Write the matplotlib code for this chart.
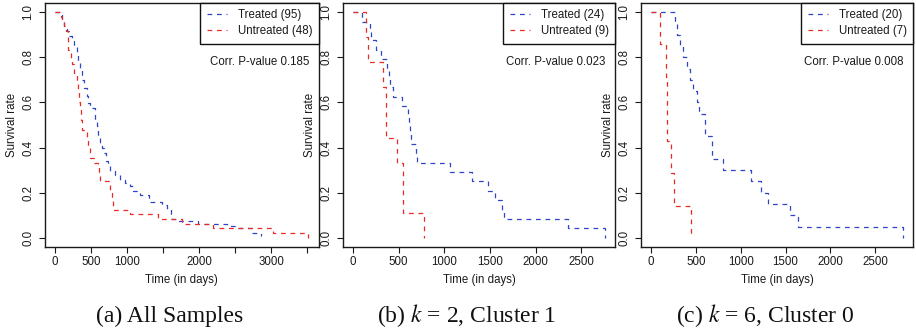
import matplotlib
matplotlib.use("Agg")
import matplotlib.pyplot as plt

plt.rcParams['font.family'] = ['Liberation Sans', 'DejaVu Sans']
plt.rcParams['mathtext.fontset'] = 'stix'

# ---------------- data ----------------
# Panel (a) All Samples
a_treated_t = [0, 101, 130, 162, 194, 231, 268, 301, 324, 347, 380, 407, 440, 463, 486,
               556, 579, 602, 625, 657, 685, 704, 732, 764, 833, 903, 972, 1042, 1088, 1181,
               1300, 1490, 1560, 1611, 1690, 1990, 2390, 2510, 2740, 2860]
a_treated_s = [1.0, 0.968, 0.936, 0.914, 0.892, 0.870, 0.848, 0.820, 0.782, 0.745, 0.700,
               0.664, 0.627, 0.597, 0.575, 0.524, 0.494, 0.450, 0.420, 0.398, 0.376, 0.339,
               0.317, 0.295, 0.280, 0.258, 0.243, 0.228, 0.207, 0.192, 0.158, 0.147, 0.126,
               0.084, 0.074, 0.063, 0.053, 0.042, 0.021, 0.0105]
a_untreated_t = [0, 79, 102, 125, 148, 176, 185, 222, 241, 268, 301, 324, 333, 347, 361,
                 380, 440, 463, 486, 546, 593, 611, 625, 764, 787, 810, 1045, 1435, 1760,
                 2200, 3030, 3520]
a_untreated_s = [1.0, 0.979, 0.958, 0.938, 0.917, 0.875, 0.833, 0.792, 0.771, 0.729, 0.688,
                 0.646, 0.604, 0.583, 0.521, 0.479, 0.438, 0.396, 0.354, 0.333, 0.313, 0.292,
                 0.25, 0.208, 0.167, 0.125, 0.104, 0.083, 0.0625, 0.042, 0.021, 0.0]

# Panel (b) k = 2, Cluster 1
b_treated_t = [0, 99, 183, 195, 252, 311, 377, 390, 400, 439, 540, 600, 612, 625, 640,
               688, 706, 1068, 1300, 1484, 1557, 1631, 1650, 2360, 2761]
b_treated_s = [1.0, 0.958, 0.917, 0.875, 0.833, 0.792, 0.75, 0.708, 0.667, 0.625, 0.583,
               0.542, 0.5, 0.458, 0.417, 0.375, 0.333, 0.292, 0.25, 0.208, 0.167, 0.125,
               0.083, 0.042, 0.0]
b_untreated_t = [0, 139, 165, 329, 358, 483, 545, 776]
b_untreated_s = [1.0, 0.889, 0.778, 0.667, 0.444, 0.333, 0.111, 0.0]

# Panel (c) k = 6, Cluster 0
c_treated_t = [0, 262, 290, 318, 356, 400, 430, 470, 510, 540, 597, 685, 805, 1119, 1224,
               1306, 1549, 1634, 2810]
c_treated_s = [1.0, 0.95, 0.90, 0.85, 0.80, 0.75, 0.70, 0.65, 0.60, 0.55, 0.45, 0.35, 0.30,
               0.25, 0.20, 0.15, 0.10, 0.05, 0.0]
c_untreated_t = [0, 101, 165, 175, 225, 251, 449]
c_untreated_s = [1.0, 0.857, 0.714, 0.429, 0.286, 0.143, 0.0]

treated_n = [95, 24, 20]
untreated_n = [48, 9, 7]
p_values = ["0.185", "0.023", "0.008"]
captions = ["(a) All Samples", "(b) $k$ = 2, Cluster 1", "(c) $k$ = 6, Cluster 0"]
x_ticks = [[0, 500, 1000, 1500, 2000, 2500, 3000, 3500],
           [0, 500, 1000, 1500, 2000, 2500],
           [0, 500, 1000, 1500, 2000, 2500]]
x_ticklabels = [["0", "500", "1000", "", "2000", "", "3000", ""],
                ["0", "500", "1000", "1500", "2000", "2500"],
                ["0", "500", "1000", "1500", "2000", "2500"]]
y_ticks = [0.0, 0.2, 0.4, 0.6, 0.8, 1.0]
y_ticklabels = ["0.0", "0.2", "0.4", "0.6", "0.8", "1.0"]

panels = [
    (a_treated_t, a_treated_s, a_untreated_t, a_untreated_s),
    (b_treated_t, b_treated_s, b_untreated_t, b_untreated_s),
    (c_treated_t, c_treated_s, c_untreated_t, c_untreated_s),
]

# ---------------- figure ----------------
W, H = 916, 333
fig = plt.figure(figsize=(W / 100, H / 100), dpi=100)

boxes_px = [(45, 318.6), (343, 615), (641, 913)]
top_px, bot_px = 3, 247

BLUE = '#2f45c8'
RED = '#ea2b25'
dash = (0, (3.8, 3.8))
INK = '#1a1a1a'

for i, (tt, ts, ut, us) in enumerate(panels):
    l, r = boxes_px[i]
    ax = fig.add_axes([l / W, 1 - bot_px / H, (r - l) / W, (bot_px - top_px) / H])
    ax.step(tt, ts, where='post', color=BLUE, lw=0.9, linestyle=dash,
            label=f"Treated ({treated_n[i]})")
    ax.step(ut, us, where='post', color=RED, lw=0.9, linestyle=dash,
            label=f"Untreated ({untreated_n[i]})")
    xmax = max(max(tt), max(ut))
    ax.set_xlim(-0.04 * xmax, 1.04 * xmax)
    ax.set_ylim(-0.04, 1.04)
    ax.set_xticks(x_ticks[i])
    ax.set_xticklabels(x_ticklabels[i])
    ax.set_yticks(y_ticks)
    ax.set_yticklabels(y_ticklabels, rotation=90, va='center', ha='right')
    ax.tick_params(axis='both', direction='out', length=4.5, width=0.8,
                   labelsize=8.3, colors=INK)
    ax.tick_params(axis='x', pad=2)
    ax.tick_params(axis='y', pad=3)
    for sp in ax.spines.values():
        sp.set_linewidth(1.0)
        sp.set_color(INK)
    ax.set_xlabel("Time (in days)", fontsize=8.3, color=INK)
    ax.xaxis.set_label_coords(0.5, -33 / (bot_px - top_px))
    ax.xaxis.label.set_va('center')
    ax.set_ylabel("Survival rate", fontsize=8.3, color=INK)
    ax.yaxis.set_label_coords(-33 / (r - l), 0.5)
    ax.yaxis.label.set_va('center')

    leg = ax.legend(loc='upper right', bbox_to_anchor=(1, 1), borderaxespad=0,
                    fontsize=8.3, frameon=True, fancybox=False, framealpha=1,
                    edgecolor='#111111', borderpad=0.55, handlelength=1.8,
                    handletextpad=0.9, labelspacing=0.35)
    leg.get_frame().set_linewidth(1.0)
    for txt in leg.get_texts():
        txt.set_color(INK)

    ax.text(0.965, 0.76, f"Corr. P-value {p_values[i]}", transform=ax.transAxes,
            ha='right', va='center', fontsize=8.3, color=INK)

    cx = (l + r) / 2 - 12
    fig.text(cx / W, 1 - 322 / H, captions[i], ha='center', va='baseline',
             fontsize=17, family=['Liberation Serif', 'DejaVu Serif'], color='#111111')

fig.savefig("out.png", dpi=100)
